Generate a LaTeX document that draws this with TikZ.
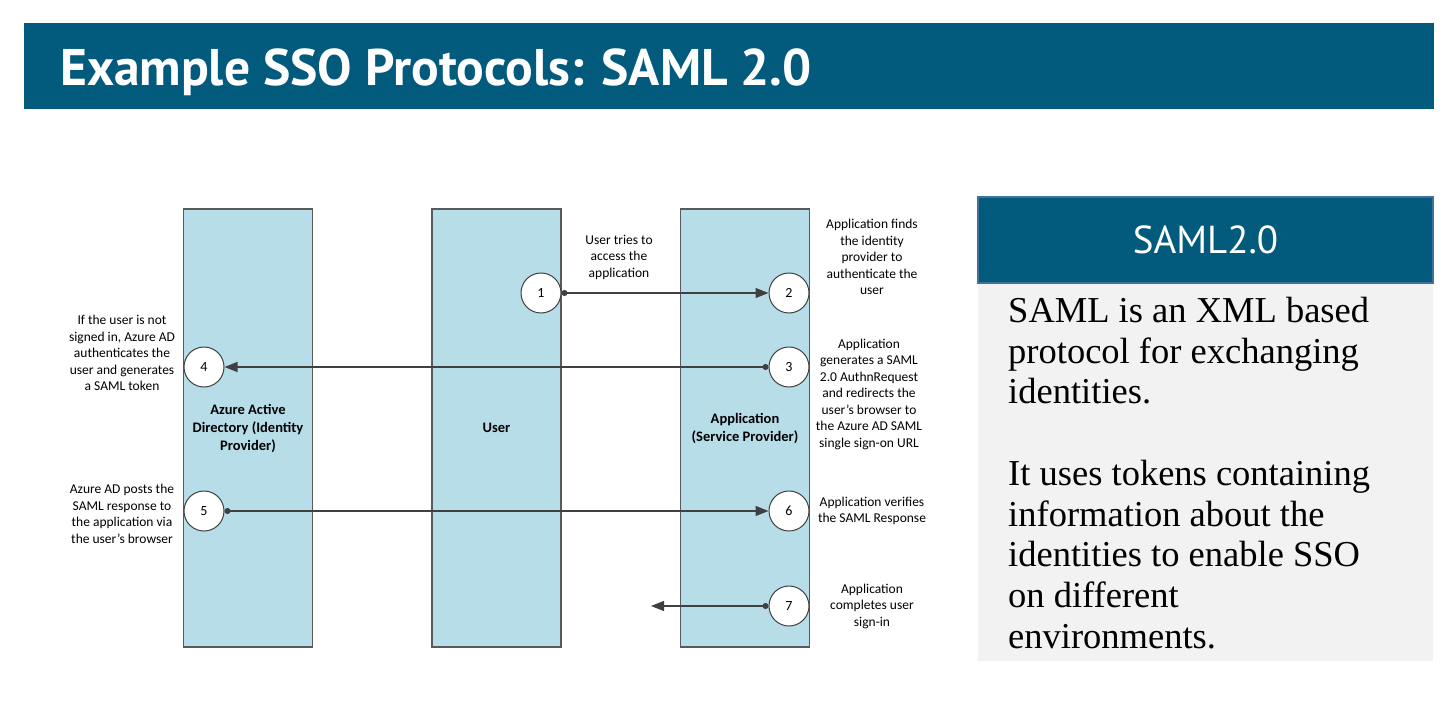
\documentclass[tikz,border=0pt]{standalone}
\usepackage{fontspec}
\setmainfont{Carlito}
\newfontfamily\titlefont{PT Sans}
\newfontfamily\bodyfont{Liberation Serif}
\usepackage{tikz}
\usetikzlibrary{arrows.meta, positioning}
\definecolor{bannerblue}{HTML}{025B7C}
\definecolor{boxedge}{HTML}{41719C}
\definecolor{boxgray}{HTML}{F2F2F2}
\definecolor{lanefill}{HTML}{B7DDE8}
\definecolor{laneedge}{HTML}{595959}
\definecolor{wire}{HTML}{404040}
\tikzstyle{lane} = [draw=laneedge, line width=1.5pt, fill=lanefill, minimum width=129pt, minimum height=438pt, inner sep=0pt, align=center, font=\bfseries\fontsize{14.5}{18}\selectfont]
\tikzstyle{stepnum} = [circle, draw=wire, fill=white, line width=1pt, minimum size=40pt, inner sep=0pt, font=\fontsize{14}{16}\selectfont]
\tikzstyle{note} = [align=center, inner sep=0pt, font=\fontsize{13.5}{16.5}\selectfont]
\tikzstyle{arrow} = [line width=1.3pt, draw=wire, {Circle[length=6pt]}-{Triangle[length=13pt,width=10pt]}]

\begin{document}
\begin{tikzpicture}[x=1pt, y=-1pt]
	\useasboundingbox (0,0) rectangle (1449,709);
	% title bar
	\node (banner) [fill=bannerblue, minimum width=1410pt, minimum height=86pt, inner sep=0pt] at (729,66) {};
	\node (title) [anchor=base west, text=white, inner sep=0pt, font=\titlefont\bfseries\fontsize{51.5}{54}\selectfont] at (60,85) {Example SSO Protocols: SAML 2.0};

	% swim lanes
	\node (azure) [lane] at (248,428) {Azure Active\\Directory (Identity\\Provider)};
	\node (user) [lane] at (496.5,428) {User};
	\node (app) [lane] at (745,428) {Application\\(Service Provider)};

	% steps
	\node (s1) [stepnum] at (541,293) {1};
	\node (s2) [stepnum] at (789,293) {2};
	\node (s3) [stepnum] at (789,367) {3};
	\node (s4) [stepnum] at (204,367) {4};
	\node (s5) [stepnum] at (204,511) {5};
	\node (s6) [stepnum] at (789,511) {6};
	\node (s7) [stepnum] at (789,606) {7};
	\coordinate (s7end) at (651,606);

	\draw [arrow] (s1) -- (s2);
	\draw [arrow] (s3) -- (s4);
	\draw [arrow] (s5) -- (s6);
	\draw [arrow] (s7) -- (s7end);

	% step notes
	\node (n1) [note] at (619,257) {User tries to\\access the\\application};
	\node (n2) [note] at (872,257) {Application finds\\the identity\\provider to\\authenticate the\\user};
	\node (n3) [note] at (869,394) {Application\\generates a SAML\\2.0 AuthnRequest\\and redirects the\\user's browser to\\the Azure AD SAML\\single sign-on URL};
	\node (n4) [note] at (122,353) {If the user is not\\signed in, Azure AD\\authenticates the\\user and generates\\a SAML token};
	\node (n5) [note] at (122,514) {Azure AD posts the\\SAML response to\\the application via\\the user's browser};
	\node (n6) [note] at (872,511) {Application verifies\\the SAML Response};
	\node (n7) [note] at (872,606) {Application\\completes user\\sign-in};

	% side box
	\node (boxbody) [fill=boxgray, minimum width=455pt, minimum height=377pt, inner sep=0pt] at (1205.5,472.5) {};
	\node (boxhead) [fill=bannerblue, draw=boxedge, line width=2pt, minimum width=455pt, minimum height=86pt, inner sep=0pt, text=white, font=\titlefont\fontsize{39}{42}\selectfont] at (1205.5,240) {SAML2.0};
	\node (boxtext) [anchor=north west, align=left, inner sep=0pt, font=\bodyfont\fontsize{36.5}{40.7}\selectfont] at (1008,297) {SAML is an XML based\\protocol for exchanging\\identities.\\[40.7pt]It uses tokens containing\\information about the\\identities to enable SSO\\on different\\environments.};
\end{tikzpicture}
\end{document}
